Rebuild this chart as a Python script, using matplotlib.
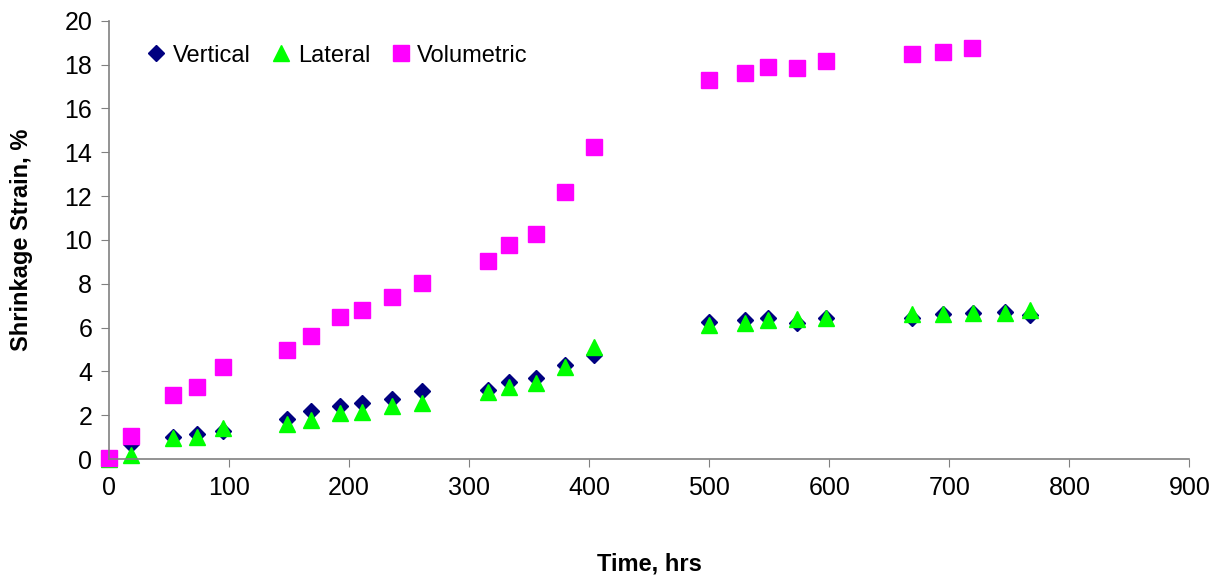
import matplotlib
matplotlib.use('Agg')
import matplotlib.pyplot as plt

plt.rcParams['font.family'] = ['Liberation Sans', 'DejaVu Sans']

# time (hrs) for vertical / lateral readings
time_vl = [0, 18, 53, 73, 95, 148, 168, 192, 211, 236, 261, 316, 333, 356, 380, 404,
           500, 530, 549, 573, 597, 669, 695, 720, 746, 767]
vertical = [0.05, 0.7, 1.0, 1.15, 1.3, 1.85, 2.18, 2.44, 2.58, 2.75, 3.1, 3.15, 3.5, 3.7, 4.3, 4.75,
            6.25, 6.35, 6.45, 6.2, 6.45, 6.45, 6.6, 6.65, 6.69, 6.57]
lateral = [0.0, 0.18, 0.94, 1.02, 1.42, 1.6, 1.8, 2.09, 2.16, 2.4, 2.57, 3.05, 3.3, 3.47, 4.2, 5.1,
           6.1, 6.2, 6.35, 6.37, 6.42, 6.62, 6.6, 6.67, 6.67, 6.79]

# volumetric has fewer readings
time_vol = [0, 18, 53, 73, 95, 148, 168, 192, 211, 236, 261, 316, 333, 356, 380, 404,
            500, 530, 549, 573, 597, 669, 695, 719]
volumetric = [0.05, 1.06, 2.94, 3.27, 4.2, 4.96, 5.63, 6.47, 6.79, 7.38, 8.05, 9.05, 9.79, 10.27,
              12.19, 14.25, 17.31, 17.61, 17.91, 17.85, 18.17, 18.46, 18.58, 18.77]

x_ticks = list(range(0, 901, 100))
y_ticks = list(range(0, 21, 2))

fig = plt.figure(figsize=(12.25, 5.76), dpi=100)
ax = fig.add_axes([0.089, 0.203, 0.882, 0.761])

ax.plot(time_vl, vertical, linestyle='none', marker='D', markersize=8.5,
        color='#000080', label='Vertical', clip_on=False)
ax.plot(time_vl, lateral, linestyle='none', marker='^', markersize=12,
        color='#00FF00', label='Lateral', clip_on=False)
ax.plot(time_vol, volumetric, linestyle='none', marker='s', markersize=11.5,
        color='#FF00FF', label='Volumetric', clip_on=False)

ax.set_xlim(0, 900)
ax.set_ylim(0, 20)
ax.set_xticks(x_ticks)
ax.set_yticks(y_ticks)
ax.tick_params(labelsize=18, direction='out', length=6, color='#808080', pad=6)
for side in ['top', 'right']:
    ax.spines[side].set_visible(False)
for side in ['left', 'bottom']:
    ax.spines[side].set_color('#808080')
    ax.spines[side].set_linewidth(1.2)

ax.set_xlabel('Time, hrs', fontsize=17, fontweight='bold', labelpad=38)
ax.set_ylabel('Shrinkage Strain, %', fontsize=17, fontweight='bold', labelpad=23)

ax.legend(loc='upper left', bbox_to_anchor=(0.026, 0.967), ncol=3, frameon=False,
          fontsize=17, handlelength=0.8, handletextpad=0.3, columnspacing=0.9,
          borderaxespad=0)

fig.savefig('out.png', dpi=100)
